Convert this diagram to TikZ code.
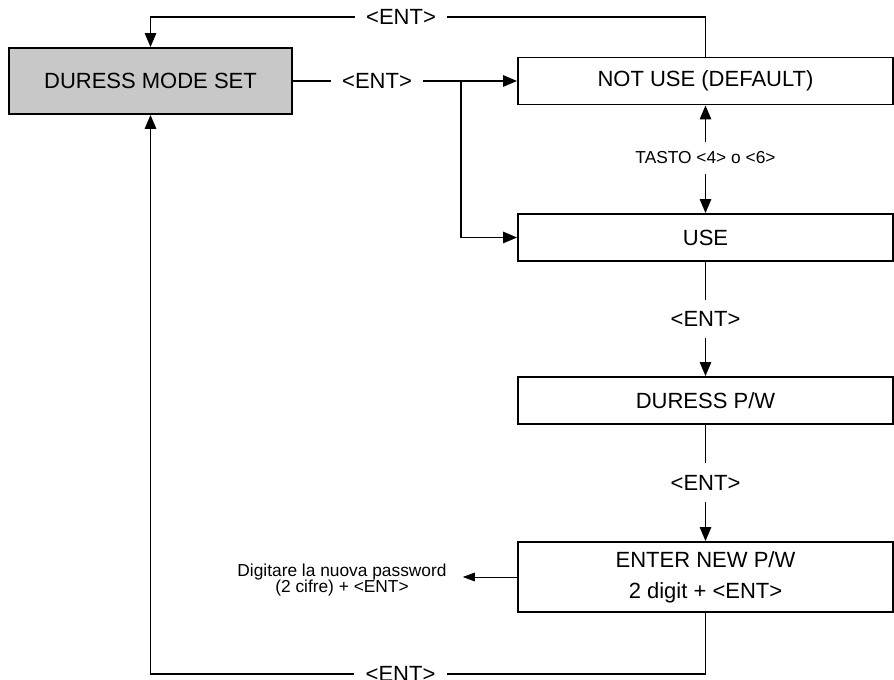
\documentclass[tikz,border=0pt]{standalone}
\usepackage{fontspec}
\setmainfont{Liberation Sans}
\usetikzlibrary{arrows.meta}
\definecolor{boxgray}{RGB}{200,200,200}
\begin{document}
\begin{tikzpicture}[
  x=0.75pt,y=-0.75pt,
  line/.style={draw=black,line width=1.4pt},
  arr/.style={line,-{Triangle[length=10.5pt,width=8.5pt]}},
  thinarr/.style={draw=black,line width=0.6pt,-{Triangle[length=9pt,width=6.5pt]}},
  box/.style={draw=black,line width=1.4pt,inner sep=0pt,minimum width=281.25pt,
    minimum height=35.25pt,font=\fontsize{16.5}{20}\selectfont},
  ent/.style={inner sep=8.5pt,font=\fontsize{16.5}{20}\selectfont},
  note/.style={font=\fontsize{13}{12.5}\selectfont,align=center},
]
\useasboundingbox (0,0) rectangle (894,680);
% boxes
\node[box,fill=boxgray,minimum width=212.25pt,minimum height=49.5pt] (dms) at (150.5,81) {DURESS MODE SET};
\node[box] (notuse) at (705.5,81) {NOT USE (DEFAULT)};
\node[box] (use) at (705.5,237.5) {USE};
\node[box] (dpw) at (705.5,400.5) {DURESS P/W};
\node[box,minimum height=52.5pt,align=center] (enter) at (705.5,577)
  {ENTER NEW P/W\\[3pt]2 digit + <ENT>};
% labels
\node[ent] (topent) at (401,17) {<ENT>};
\node[ent] (mident) at (377,81) {<ENT>};
\node[ent] (ent1) at (705.5,319) {<ENT>};
\node[ent] (ent2) at (705.5,482.5) {<ENT>};
\node[ent] (botent) at (400.5,674) {<ENT>};
\node[note,inner ysep=7pt] (tasto) at (705.5,158) {TASTO <4> o <6>};
\node[note,inner xsep=12pt] (digit) at (342,580) {Digitare la nuova password\\(2 cifre) + <ENT>};
\coordinate (br) at (461,81);
% connectors
\draw[line] (dms.east) -- (mident.west);
\draw[arr] (mident.east) -- (notuse.west);
\draw[arr] (br) |- (use.west);
\draw[line] (notuse.north) |- (topent.east);
\draw[arr] (topent.west) -| (dms.north);
\draw[arr] (tasto.north) -- (notuse.south);
\draw[arr] (tasto.south) -- (use.north);
\draw[line] (use.south) -- (ent1.north);
\draw[arr] (ent1.south) -- (dpw.north);
\draw[line] (dpw.south) -- (ent2.north);
\draw[arr] (ent2.south) -- (enter.north);
\draw[thinarr] (enter.west) -- (enter.west -| digit.east);
\draw[line] (enter.south) |- (botent.east);
\draw[arr] (botent.west) -| (dms.south);
\end{tikzpicture}
\end{document}
